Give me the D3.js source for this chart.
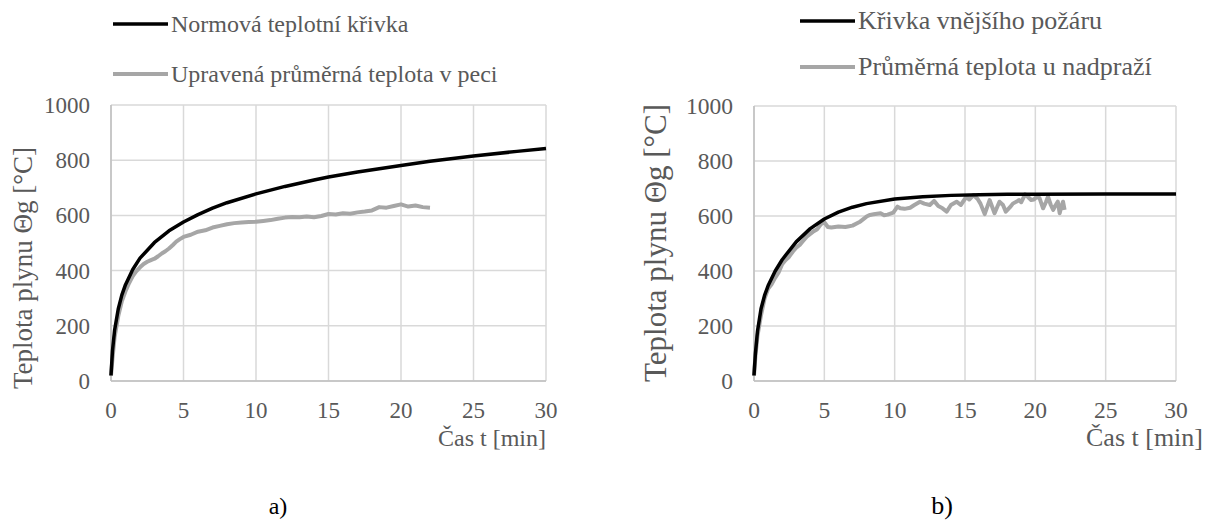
<!DOCTYPE html>
<html>
<head>
<meta charset="utf-8">
<script src="https://cdn.jsdelivr.net/npm/d3@7"></script>
<style>
  body { margin: 0; background: #fff; }
  svg text { font-family: 'Liberation Serif', 'Times New Roman', Times, 'DejaVu Serif', serif; fill: #595959; }
</style>
</head>
<body>
<svg id="main_svg" width="1205" height="532"></svg>
<script>
// osy
var timeTicks = [0, 5, 10, 15, 20, 25, 30];
var tempTicks = [0, 200, 400, 600, 800, 1000];

// a) normova teplotni krivka
var isoTime = [0, 0.1, 0.25, 0.5, 0.75, 1, 1.5, 2, 3, 4, 5, 6, 7, 8, 10, 12, 14, 15, 17, 20, 22, 25, 28, 30];
var isoTemp = [20, 108, 185, 261, 312, 349, 404, 445, 502, 544, 576, 603, 626, 646, 678, 705, 728, 739, 757, 781, 796, 815, 832, 842];

// a) upravena prumerna teplota v peci
var furnaceTime = [0, 0.1, 0.25, 0.5, 0.75, 1, 1.25, 1.5, 1.75, 2, 2.25, 2.5, 2.75, 3, 3.25, 3.5, 3.75, 4, 4.25, 4.5, 4.75, 5,
    5.5, 6, 6.5, 7, 7.5, 8, 8.5, 9, 9.5, 10, 10.5, 11, 11.5, 12, 12.5, 13, 13.5, 14, 14.5, 15, 15.5, 16, 16.5, 17,
    17.5, 18, 18.5, 19, 19.5, 20, 20.5, 21, 21.5, 22];
var furnaceTemp = [20, 80, 160, 235, 290, 325, 355, 380, 398, 412, 424, 432, 438, 443, 452, 462, 470, 480, 492, 505, 514, 522,
    530, 541, 546, 556, 562, 568, 572, 574, 576, 577, 580, 583, 588, 592, 594, 593, 596, 593, 598, 605, 603, 608, 606, 611,
    614, 618, 630, 628, 634, 640, 632, 636, 630, 628];

// b) krivka vnejsiho pozaru
var extTime = [0, 0.1, 0.25, 0.5, 0.75, 1, 1.5, 2, 3, 4, 5, 6, 7, 8, 10, 12, 14, 16, 18, 20, 25, 30];
var extTemp = [20, 100, 182, 263, 311, 346, 399, 441, 506, 554, 589, 614, 632, 645, 662, 670, 675, 677, 679, 679, 680, 680];

// b) prumerna teplota u nadprazi
var lintelTime = [0, 0.1, 0.25, 0.5, 0.75, 1, 1.25, 1.5, 1.75, 2, 2.25, 2.5, 2.75, 3, 3.25, 3.5, 3.75, 4, 4.25, 4.5, 4.75, 5,
    5.25, 5.5, 6, 6.5, 7, 7.5, 8, 8.25, 8.5, 9, 9.25, 9.5, 9.9, 10.2, 10.4, 10.7, 11.1, 11.4, 11.8, 12.1, 12.5, 12.8,
    13.1, 13.4, 13.7, 14, 14.4, 14.7, 15.1, 15.3, 15.6, 15.9, 16.1, 16.4, 16.75, 17.1, 17.45, 17.7, 17.9, 18.2, 18.4,
    18.85, 19, 19.27, 19.5, 19.7, 19.9, 20.1, 20.3, 20.55, 20.75, 20.9, 21.1, 21.27, 21.45, 21.6, 21.73, 21.85, 21.97, 22.08];
var lintelTemp = [20, 90, 165, 240, 300, 335, 352, 375, 395, 425, 440, 452, 470, 485, 495, 510, 525, 535, 545, 552, 570, 578,
    560, 558, 562, 560, 565, 578, 598, 604, 606, 610, 603, 605, 612, 634, 628, 626, 630, 640, 652, 645, 640, 655,
    636, 628, 616, 640, 652, 640, 670, 660, 676, 662, 645, 607, 658, 610, 652, 640, 616, 632, 645,
    658, 650, 679, 668, 658, 660, 670, 665, 628, 650, 670, 640, 622, 640, 652, 610, 635, 652, 622];

var panels = [
    {
        left: 111, right: 546, top: 105, bottom: 381,
        font: 24, tickFont: 23, titleFont: 27,
        yTitleX: 23, yTitleMid: 268, xTitleRight: 546, legendX: 113,
        legendY: [24, 74],
        names: ["Normová teplotní křivka", "Upravená průměrná teplota v peci"],
        series: [[isoTime, isoTemp], [furnaceTime, furnaceTemp]],
        caption: "a)", captionX: 278
    },
    {
        left: 754, right: 1176, top: 106, bottom: 381,
        font: 26, tickFont: 23.5, titleFont: 31,
        yTitleX: 655, yTitleMid: 243, xTitleRight: 1203, legendX: 800,
        legendY: [21, 67],
        names: ["Křivka vnějšího požáru", "Průměrná teplota u nadpraží"],
        series: [[extTime, extTemp], [lintelTime, lintelTemp]],
        caption: "b)", captionX: 942
    }
];

var lineColors = ["#000000", "#a6a6a6"];
var lineWidths = [3.5, 4];
var serif = "'Liberation Serif', 'Times New Roman', Times, 'DejaVu Serif', serif";

function drawPanel(svg, p) {
    var x = d3.scaleLinear().domain([0, 30]).range([p.left, p.right]);
    var y = d3.scaleLinear().domain([0, 1000]).range([p.bottom, p.top]);
    var g = svg.append("g").attr("font-family", serif);

    // mrizka
    g.selectAll(".hgrid").data(tempTicks).enter().append("line")
        .attr("x1", p.left).attr("x2", p.right)
        .attr("y1", function(d) { return y(d) }).attr("y2", function(d) { return y(d) })
        .attr("stroke", "#d9d9d9").attr("stroke-width", 1.5);
    g.selectAll(".vgrid").data(timeTicks).enter().append("line")
        .attr("x1", function(d) { return x(d) }).attr("x2", function(d) { return x(d) })
        .attr("y1", p.top).attr("y2", p.bottom)
        .attr("stroke", "#d9d9d9").attr("stroke-width", 1.5);
    // osy
    g.append("line").attr("x1", p.left).attr("x2", p.right).attr("y1", p.bottom).attr("y2", p.bottom)
        .attr("stroke", "#bfbfbf").attr("stroke-width", 1.5);
    g.append("line").attr("x1", p.left).attr("x2", p.left).attr("y1", p.top).attr("y2", p.bottom)
        .attr("stroke", "#bfbfbf").attr("stroke-width", 1.5);

    // popisky
    g.selectAll(".ylab").data(tempTicks).enter().append("text")
        .attr("x", p.left - 21).attr("y", function(d) { return y(d) + 8 })
        .attr("text-anchor", "end").attr("font-size", p.tickFont)
        .text(function(d) { return d });
    g.selectAll(".xlab").data(timeTicks).enter().append("text")
        .attr("x", function(d) { return x(d) }).attr("y", p.bottom + 37)
        .attr("text-anchor", "middle").attr("font-size", p.tickFont)
        .text(function(d) { return d });

    g.append("text").attr("x", p.xTitleRight).attr("y", p.bottom + 65)
        .attr("text-anchor", "end").attr("font-size", p.font).text("Čas t [min]");
    g.append("text")
        .attr("transform", "translate(" + p.yTitleX + "," + p.yTitleMid + ") rotate(-90)")
        .attr("dy", "0.35em")
        .attr("text-anchor", "middle").attr("font-size", p.titleFont).text("Teplota plynu Θg [°C]");

    // krivky
    var line = d3.line()
        .x(function(d) { return x(d[0]) })
        .y(function(d) { return y(d[1]) });
    // seda pod cernou
    [1, 0].forEach(function(i) {
        var s = p.series[i];
        var pts = s[0].map(function(t, k) { return [t, s[1][k]] });
        g.append("path").datum(pts)
            .attr("d", line)
            .attr("fill", "none")
            .attr("stroke", lineColors[i])
            .attr("stroke-width", lineWidths[i])
            .attr("stroke-linejoin", "round");
    });

    // legenda
    p.names.forEach(function(name, i) {
        g.append("line").attr("x1", p.legendX).attr("x2", p.legendX + 55)
            .attr("y1", p.legendY[i]).attr("y2", p.legendY[i])
            .attr("stroke", lineColors[i]).attr("stroke-width", lineWidths[i]);
        g.append("text").attr("x", p.legendX + 58).attr("y", p.legendY[i] + 8)
            .attr("font-size", p.font).text(name);
    });

    g.append("text").attr("x", p.captionX).attr("y", 514)
        .attr("text-anchor", "middle").attr("font-size", p.font)
        .style("fill", "#000").text(p.caption);
}

window.onload = (event) => {
    var svg = d3.select("svg");
    panels.forEach(function(p) { drawPanel(svg, p) });
};
</script>
</body>
</html>
